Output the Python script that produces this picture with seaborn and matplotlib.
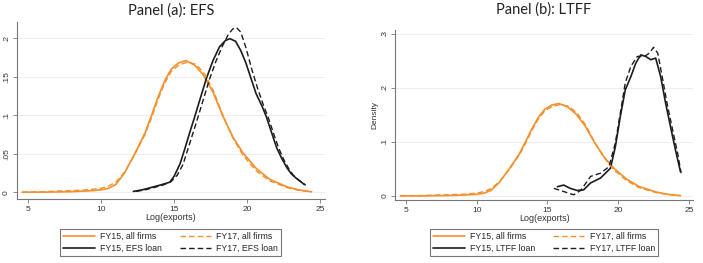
import matplotlib
matplotlib.use("Agg")
import matplotlib.pyplot as plt
import seaborn as sns

# all firms (same in both panels)
all15_x = [4.6, 6, 7, 8, 9, 10, 10.5, 11, 11.6, 12.3, 13.0, 13.45, 13.9, 14.35, 14.8, 15.3, 15.8, 16.4,
           17.0, 17.65, 18.3, 19.0, 19.7, 20.6, 21.5, 22.7, 23.5, 24.4]
all15_y = [0, 0, 0.0003, 0.0007, 0.0015, 0.003, 0.005, 0.010, 0.025, 0.050, 0.077, 0.100, 0.124, 0.145,
           0.160, 0.168, 0.171, 0.165, 0.152, 0.130, 0.100, 0.072, 0.051, 0.031, 0.017, 0.007, 0.003, 0.0005]
all17_x = [4.6, 6, 7, 8, 9, 10, 10.5, 11, 11.6, 12.3, 13.0, 13.45, 13.9, 14.35, 14.8, 15.3, 15.9, 16.5,
           17.1, 17.7, 18.3, 19.0, 19.7, 20.6, 21.5, 22.7, 23.5, 24.4]
all17_y = [0, 0.0005, 0.0015, 0.002, 0.003, 0.005, 0.008, 0.013, 0.026, 0.049, 0.075, 0.097, 0.121, 0.142,
           0.157, 0.165, 0.169, 0.166, 0.153, 0.131, 0.101, 0.071, 0.048, 0.028, 0.015, 0.006, 0.0025, 0.0004]

# EFS loan firms
efs15_x = [12.2, 12.8, 13.4, 14.0, 14.7, 15.0, 15.4, 15.7, 16.05, 16.4, 16.75, 17.2, 17.65, 18.1, 18.5,
           18.8, 19.2, 19.55, 19.9, 20.3, 20.6, 21.0, 21.3, 21.65, 22.0, 22.35, 22.7, 23.0, 23.35, 23.9]
efs15_y = [0.001, 0.003, 0.006, 0.009, 0.013, 0.021, 0.037, 0.055, 0.077, 0.098, 0.120, 0.148, 0.171, 0.189,
           0.197, 0.1995, 0.196, 0.184, 0.168, 0.145, 0.128, 0.112, 0.098, 0.078, 0.058, 0.044, 0.032, 0.024,
           0.018, 0.010]
efs17_x = [12.4, 13.0, 13.6, 14.2, 14.8, 15.2, 15.6, 15.9, 16.25, 16.6, 16.95, 17.4, 17.85, 18.3, 18.7,
           19.0, 19.25, 19.55, 19.9, 20.3, 20.7, 21.1, 21.45, 21.8, 22.15, 22.5, 22.85, 23.15, 23.5, 24.0]
efs17_y = [0.001, 0.003, 0.006, 0.009, 0.014, 0.022, 0.036, 0.054, 0.075, 0.096, 0.118, 0.146, 0.170, 0.190,
           0.205, 0.212, 0.214, 0.208, 0.188, 0.160, 0.135, 0.113, 0.096, 0.076, 0.057, 0.042, 0.030, 0.022,
           0.016, 0.009]

# LTFF loan firms
ltff15_x = [15.7, 16.15, 16.6, 17.1, 17.55, 18.05, 18.75, 19.45, 19.8, 20.15, 20.5, 20.9, 21.25, 21.6,
            21.95, 22.3, 22.65, 23.0, 23.35, 23.7, 24.05, 24.4]
ltff15_y = [0.017, 0.020, 0.014, 0.010, 0.011, 0.024, 0.033, 0.051, 0.091, 0.147, 0.196, 0.221, 0.246,
            0.261, 0.258, 0.252, 0.255, 0.221, 0.172, 0.128, 0.085, 0.045]
ltff17_x = [15.45, 16.15, 16.85, 17.35, 18.05, 18.75, 19.35, 19.8, 20.15, 20.5, 20.9, 21.35, 21.85, 22.2,
            22.5, 22.8, 23.15, 23.5, 23.85, 24.2, 24.45]
ltff17_y = [0.014, 0.008, 0.002, 0.010, 0.036, 0.042, 0.054, 0.098, 0.153, 0.209, 0.240, 0.258, 0.258,
            0.264, 0.275, 0.264, 0.215, 0.165, 0.122, 0.079, 0.042]

x_ticks = [5, 10, 15, 20, 25]
a_yticks = [0, 0.05, 0.1, 0.15, 0.2]
a_ylabels = ["0", ".05", ".1", ".15", ".2"]
b_yticks = [0, 0.1, 0.2, 0.3]
b_ylabels = ["0", ".1", ".2", ".3"]

ORANGE = "#f58f2a"
BLACK = "#1c1c1c"
DASH = (4, 2.2)

sns.set_theme(style="white")
plt.rcParams['font.family'] = ['Liberation Sans', 'DejaVu Sans']

fig = plt.figure(figsize=(7.03, 2.63), dpi=100)
ax_a = fig.add_axes([0.024, 0.243, 0.438, 0.673])
ax_b = fig.add_axes([0.562, 0.240, 0.424, 0.646])


def draw_panel(ax, loan15, loan17, name, yticks, ylabels, ylim, title, title_pad):
    sns.lineplot(x=all15_x, y=all15_y, ax=ax, color=ORANGE, lw=1.2, label="FY15, all firms")
    sns.lineplot(x=loan15[0], y=loan15[1], ax=ax, color=BLACK, lw=1.2, label="FY15, %s loan" % name)
    sns.lineplot(x=all17_x, y=all17_y, ax=ax, color=ORANGE, lw=1.0, label="FY17, all firms")
    sns.lineplot(x=loan17[0], y=loan17[1], ax=ax, color=BLACK, lw=1.0, label="FY17, %s loan" % name)
    ax.lines[2].set_dashes(DASH)
    ax.lines[3].set_dashes(DASH)

    ax.set_xlim(4.23, 25.3)
    ax.set_ylim(*ylim)
    ax.set_xticks(x_ticks)
    ax.set_xticklabels([str(t) for t in x_ticks])
    ax.set_yticks(yticks)
    ax.set_yticklabels(ylabels, rotation=90, va="center")
    ax.tick_params(axis="both", labelsize=6, length=3, width=0.6, color="#777777",
                   pad=2, labelcolor="#333333", bottom=True, left=True)
    ax.grid(axis="y", color="#eeeeee", lw=0.8)
    ax.set_axisbelow(True)
    for s in ["top", "right"]:
        ax.spines[s].set_visible(False)
    for s in ["left", "bottom"]:
        ax.spines[s].set_color("#777777")
        ax.spines[s].set_linewidth(0.8)
    ax.set_xlabel("Log(exports)", fontsize=6.5, color="#333333", labelpad=0)
    ax.set_ylabel("Density", fontsize=6, color="#333333", labelpad=2)
    ax.set_title(title, fontsize=10.5, family=["Lato", "DejaVu Sans"], color="#222222", pad=title_pad)

    leg = ax.legend(loc="upper center", bbox_to_anchor=(0.5, -0.145), ncol=2, fontsize=6.3,
                    frameon=True, fancybox=False, handlelength=3.6, columnspacing=2.0,
                    labelspacing=0.3, borderpad=0.35, handletextpad=0.6)
    leg.get_frame().set_edgecolor("#555555")
    leg.get_frame().set_linewidth(0.8)


draw_panel(ax_a, (efs15_x, efs15_y), (efs17_x, efs17_y), "EFS", a_yticks, a_ylabels,
           (-0.009, 0.221), "Panel (a): EFS", 5)
draw_panel(ax_b, (ltff15_x, ltff15_y), (ltff17_x, ltff17_y), "LTFF", b_yticks, b_ylabels,
           (-0.0074, 0.307), "Panel (b): LTFF", 12)

fig.savefig("out.png", dpi=100)
